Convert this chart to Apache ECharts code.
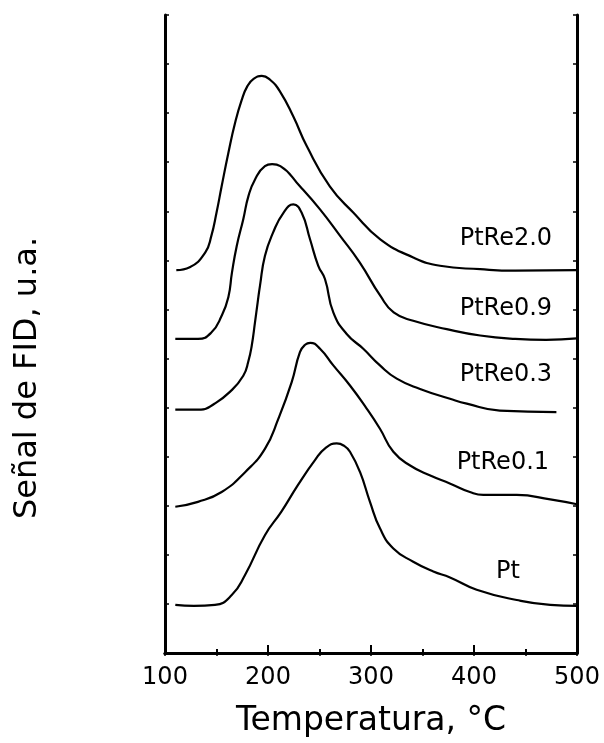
<!DOCTYPE html>
<html>
<head>
<meta charset="utf-8">
<script src="https://cdn.jsdelivr.net/npm/echarts@6/dist/echarts.min.js"></script>
<style>
  html, body { margin: 0; padding: 0; background: #fff; }
  #tpr { width: 604px; height: 743px; }
</style>
</head>
<body>
<div id="tpr"></div>
<script>
// TPR curves, temperature (°C) vs FID signal (offset, arbitrary units)
var names = ['PtRe2.0', 'PtRe0.9', 'PtRe0.3', 'PtRe0.1', 'Pt'];

var ptre20 = [[111,7.80],[124,7.86],[139,8.16],[145,8.50],[150,8.97],[155,9.51],[161.5,10.19],
  [168,10.80],[174.5,11.27],[180,11.55],[186,11.70],[194,11.76],[202,11.68],[211.7,11.44],[224.6,10.93],
  [237.6,10.33],[260,9.51],[283,8.97],[309,8.43],[341,8.06],[367,7.89],[406,7.82],[440,7.79],[500,7.80]];

var ptre09 = [[110,6.40],[132,6.40],[145,6.53],[155,6.87],[161.5,7.25],[165,7.75],[169.6,8.29],[176,8.84],
  [181,9.31],[187.4,9.65],[197,9.92],[204,9.96],[212,9.92],[231,9.51],[250.5,9.04],[270,8.50],[289,7.96],
  [309,7.28],[322,6.94],[341,6.77],[373.5,6.60],[406,6.47],[440,6.40],[470,6.38],[500,6.41]];

var ptre03 = [[110,4.96],[135,4.96],[148,5.08],[163,5.32],[176,5.65],[181,5.95],[184.2,6.26],[187.4,6.74],
  [190,7.15],[192.2,7.48],[197,8.09],[205,8.57],[215,8.97],[224.6,9.14],[232.7,8.97],[240.8,8.43],
  [248.8,7.89],[255.3,7.62],[263.4,6.94],[276.4,6.50],[292.5,6.20],[308.7,5.86],[325,5.59],[347.6,5.38],
  [376.7,5.18],[393,5.08],[425,4.94],[480,4.91]];

var ptre01 = [[110,2.98],[132,3.08],[155,3.28],[178,3.69],[197,4.16],[210,4.77],[223,5.52],[231,6.13],
  [236,6.28],[241,6.32],[250.5,6.20],[263.4,5.86],[279.6,5.45],[295.8,4.98],[308.7,4.57],[321.7,4.10],
  [338,3.82],[357,3.62],[377,3.45],[396,3.28],[409,3.22],[441.5,3.22],[474,3.13],[500,3.03]];

var pt = [[110,0.98],[128,0.96],[148.5,0.98],[164.8,1.18],[177.7,1.59],[197,2.40],[213,2.88],[229,3.42],
  [245.6,3.93],[256,4.18],[266.7,4.27],[274,4.22],[279.6,4.10],[289.3,3.69],[299,3.08],[308.7,2.54],
  [321.7,2.13],[341,1.86],[360.5,1.66],[376.7,1.54],[402.6,1.29],[441.5,1.08],[474,0.98],[500,0.96]];

var curves = [ptre20, ptre09, ptre03, ptre01, pt];
// where each curve name is written (data units)
var labelAt = [[431,8.45],[431,7.01],[431,5.67],[428,3.88],[433,1.65]];

var myChart = echarts.init(document.getElementById('tpr'));
var font = 'DejaVu Sans';

var series = curves.map(function (c, i) {
    return {
        name: names[i],
        type: 'line',
        data: c,
        showSymbol: false,
        smooth: 0.5,
        lineStyle: { color: '#000', width: 2.2 },
        markPoint: {
            symbol: 'circle',
            symbolSize: 0,
            data: [{ coord: labelAt[i], value: names[i] }],
            label: {
                show: true,
                position: 'inside',
                formatter: names[i],
                color: '#000',
                fontFamily: font,
                fontSize: 24
            }
        }
    };
});

var option = {
    animation: false,
    backgroundColor: '#fff',
    grid: { left: 165, right: 27, top: 15, bottom: 88 },
    graphic: [{
        type: 'text',
        x: 28,
        y: 378,
        rotation: Math.PI / 2,
        style: {
            text: 'Señal de FID, u.a.',
            fill: '#000',
            font: '32px "DejaVu Sans"',
            textAlign: 'center',
            textVerticalAlign: 'middle'
        }
    }],
    xAxis: [
        {
            type: 'value', min: 100, max: 500, interval: 100,
            name: 'Temperatura, °C',
            nameLocation: 'middle',
            nameGap: 52,
            nameTextStyle: { color: '#000', fontFamily: font, fontSize: 33 },
            axisLine: { show: true, lineStyle: { color: '#000', width: 3 } },
            axisTick: { inside: true, length: 8, lineStyle: { color: '#000', width: 2 } },
            minorTick: { show: true, splitNumber: 2, length: 4, lineStyle: { color: '#000', width: 2 } },
            axisLabel: { color: '#000', fontFamily: font, fontSize: 24, margin: 13 },
            splitLine: { show: false }
        },
        {
            type: 'value', min: 100, max: 500, interval: 50, position: 'top',
            axisLine: { show: true, lineStyle: { color: '#000', width: 3 } },
            axisTick: { inside: true, length: 3, lineStyle: { color: '#000', width: 1.5 } },
            axisLabel: { show: false },
            splitLine: { show: false }
        }
    ],
    yAxis: [
        {
            type: 'value', min: 0, max: 13, interval: 1,
            axisLine: { show: true, lineStyle: { color: '#000', width: 3 } },
            axisTick: { inside: true, length: 4, lineStyle: { color: '#000', width: 1.5 } },
            axisLabel: { show: false },
            splitLine: { show: false }
        },
        {
            type: 'value', min: 0, max: 13, interval: 1, position: 'right',
            axisLine: { show: true, lineStyle: { color: '#000', width: 3 } },
            axisTick: { inside: true, length: 4, lineStyle: { color: '#000', width: 1.5 } },
            axisLabel: { show: false },
            splitLine: { show: false }
        }
    ],
    series: series
};
myChart.setOption(option);
</script>
</body>
</html>
